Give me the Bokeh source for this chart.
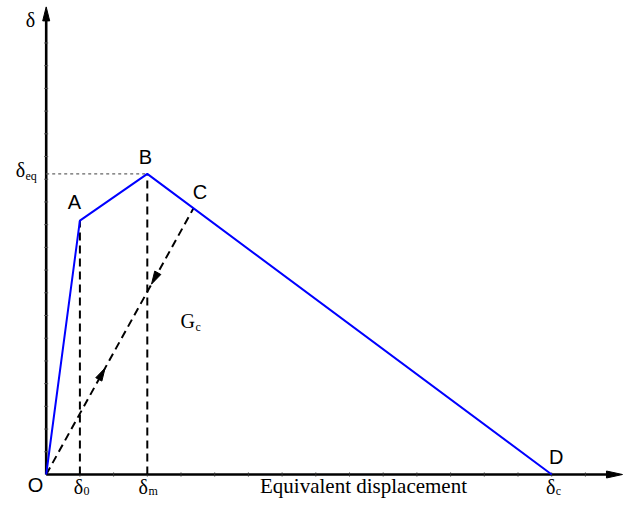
import numpy as np
from bokeh.plotting import figure
from bokeh.models import ColumnDataSource, Label, Range1d
from bokeh.core.properties import value
from bokeh.embed import file_html
from bokeh.resources import INLINE

# ---------------- data ----------------
pt_names = ["O", "A", "B", "D"]
pt_x = [0.0, 1.0, 3.0, 15.0]          # O, A, B, D  (delta_0 = 1, delta_m = 3, delta_c = 15)
pt_y = [0.0, 7.6, 9.0, 0.0]
c_x, c_y = 4.37, 7.97                 # point C on the softening branch
x_axis_end = 17.1
y_axis_end = 14.0
x_ticks = list(range(1, 17))
y_ticks = [0.68, 1.36, 2.04, 2.72, 3.4, 4.08, 4.76, 5.44, 6.12, 6.8, 7.48,
           8.16, 8.84, 9.52, 10.2, 10.88, 11.56, 12.24, 12.92]
arrow_fracs = [0.40, 0.715]           # arrow tips along O -> C
arrow_dirs = [1, -1]                  # up-right, down-left
sub_labels = ["0", "m", "c"]          # subscripts of delta on the x axis
sub_x = [1.0, 3.0, 15.0]

# ---------------- layout ----------------
W, H = 624, 499
SX, SY = 33.7, 33.4                    # px per data unit
x_start = -45.7 / SX
y_start = -(H - 474.0) / SY
FIX = -8.0                             # baseline correction of the svg text

p = figure(width=W, height=H, output_backend="svg", toolbar_location=None,
           x_axis_type=None, y_axis_type=None, min_border=0,
           x_range=Range1d(x_start, x_start + W / SX),
           y_range=Range1d(y_start, y_start + H / SY))
p.outline_line_color = None
p.background_fill_color = "white"
p.border_fill_color = "white"

SERIF = value("Liberation Serif")
SANS = value("Liberation Sans")


def tri(tx, ty, ux, uy, L, Wd):
    """triangle with tip (tx,ty) pointing along pixel direction (ux,uy)."""
    n = np.hypot(ux, uy)
    ux, uy = ux / n, uy / n
    bx, by = -ux * L, -uy * L
    px, py = -uy * Wd / 2, ux * Wd / 2
    xs = [tx, tx + (bx + px) / SX, tx + (bx - px) / SX]
    ys = [ty, ty + (by + py) / SY, ty + (by - py) / SY]
    return xs, ys

# axes
AX_W = 2.6
xl, yl = 16, 14
p.line([0, x_axis_end - xl / SX], [0, 0], line_color="black", line_width=AX_W)
p.line([0, 0], [0, y_axis_end - yl / SY], line_color="black", line_width=AX_W)
hx, hy = tri(x_axis_end, 0, 1, 0, xl, 7)
p.patch(hx, hy, fill_color="black", line_color="black", line_width=1)
hx, hy = tri(0, y_axis_end, 0, 1, yl, 7)
p.patch(hx, hy, fill_color="black", line_color="black", line_width=1)

# tick nubs
p.scatter(x_ticks, [0] * len(x_ticks), marker="dash", angle=np.pi / 2, size=4,
          line_color="#333333", line_width=1)
p.scatter([0] * len(y_ticks), y_ticks, marker="dash", size=4,
          line_color="#555555", line_width=1)

# dotted delta_eq line
p.line([0, pt_x[2]], [pt_y[2], pt_y[2]], line_color="#666666", line_width=1.4,
       line_dash="3 3")

# vertical dashed lines from A and B
p.line([pt_x[1], pt_x[1]], [0, pt_y[1]], line_color="black", line_width=2,
       line_dash="8 5")
p.line([pt_x[2], pt_x[2]], [0, pt_y[2]], line_color="black", line_width=2,
       line_dash="8 5")

# dashed unloading/reloading line O -> C
p.line([0, c_x], [0, c_y], line_color="black", line_width=2, line_dash="8 5")
for f, d in zip(arrow_fracs, arrow_dirs):
    ax_, ay_ = tri(f * c_x, f * c_y, d * c_x * SX, d * c_y * SY, 13, 7)
    p.patch(ax_, ay_, fill_color="black", line_color="black", line_width=1)

# blue damage law O-A-B-D
p.line(pt_x, pt_y, line_color="#0000FF", line_width=2)

# point labels
lab = ColumnDataSource(dict(
    x=[pt_x[0], pt_x[1], pt_x[2], c_x, pt_x[3]],
    y=[pt_y[0], pt_y[1], pt_y[2], c_y, pt_y[3]],
    t=["O", "A", "B", "C", "D"],
    xo=[-10.7, -5.5, -2.0, 6.5, 4.5],
    yo=[v + FIX for v in [18.0, -11.0, -9.4, -8.0, -10.0]],
))
p.text(x="x", y="y", text="t", x_offset="xo", y_offset="yo", source=lab,
       text_font=SANS, text_font_size="20px", text_align="center",
       text_baseline="alphabetic", text_color="black")

# delta symbols
dl = ColumnDataSource(dict(
    x=[0.0, 0.0] + sub_x,
    y=[y_axis_end, pt_y[2], 0.0, 0.0, 0.0],
    t=["δ"] * 5,
    xo=[-15.7, -25.7, -1.4, -4.0, -1.0],
    yo=[v + FIX for v in [20.6, 4.5, 20.5, 20.5, 20.5]],
))
p.text(x="x", y="y", text="t", x_offset="xo", y_offset="yo", source=dl,
       text_font=SERIF, text_font_size="20px", text_align="center",
       text_baseline="alphabetic", text_color="black")

# subscripts
sl = ColumnDataSource(dict(
    x=[0.0] + sub_x,
    y=[pt_y[2], 0.0, 0.0, 0.0],
    t=["eq"] + sub_labels,
    xo=[-20.7, 3.6, 1.2, 4.0],
    yo=[v + FIX for v in [10.0, 24.0, 24.0, 24.0]],
))
p.text(x="x", y="y", text="t", x_offset="xo", y_offset="yo", source=sl,
       text_font=SERIF, text_font_size="12px", text_align="left",
       text_baseline="alphabetic", text_color="black")

# free labels
p.add_layout(Label(x=363, y=H - 493 - FIX, x_units="screen", y_units="screen",
                   text="Equivalent displacement", text_font="Liberation Serif",
                   text_font_size="21px", text_align="center",
                   text_baseline="alphabetic", text_color="black"))
p.add_layout(Label(x=180, y=H - 328 - FIX, x_units="screen", y_units="screen",
                   text="G", text_font="Liberation Serif",
                   text_font_size="20px", text_align="left",
                   text_baseline="alphabetic", text_color="black"))
p.add_layout(Label(x=195, y=H - 334 - FIX, x_units="screen", y_units="screen",
                   text="c", text_font="Liberation Serif",
                   text_font_size="12px", text_align="left",
                   text_baseline="alphabetic", text_color="black"))

open("out.html", "w").write(file_html(p, INLINE))
